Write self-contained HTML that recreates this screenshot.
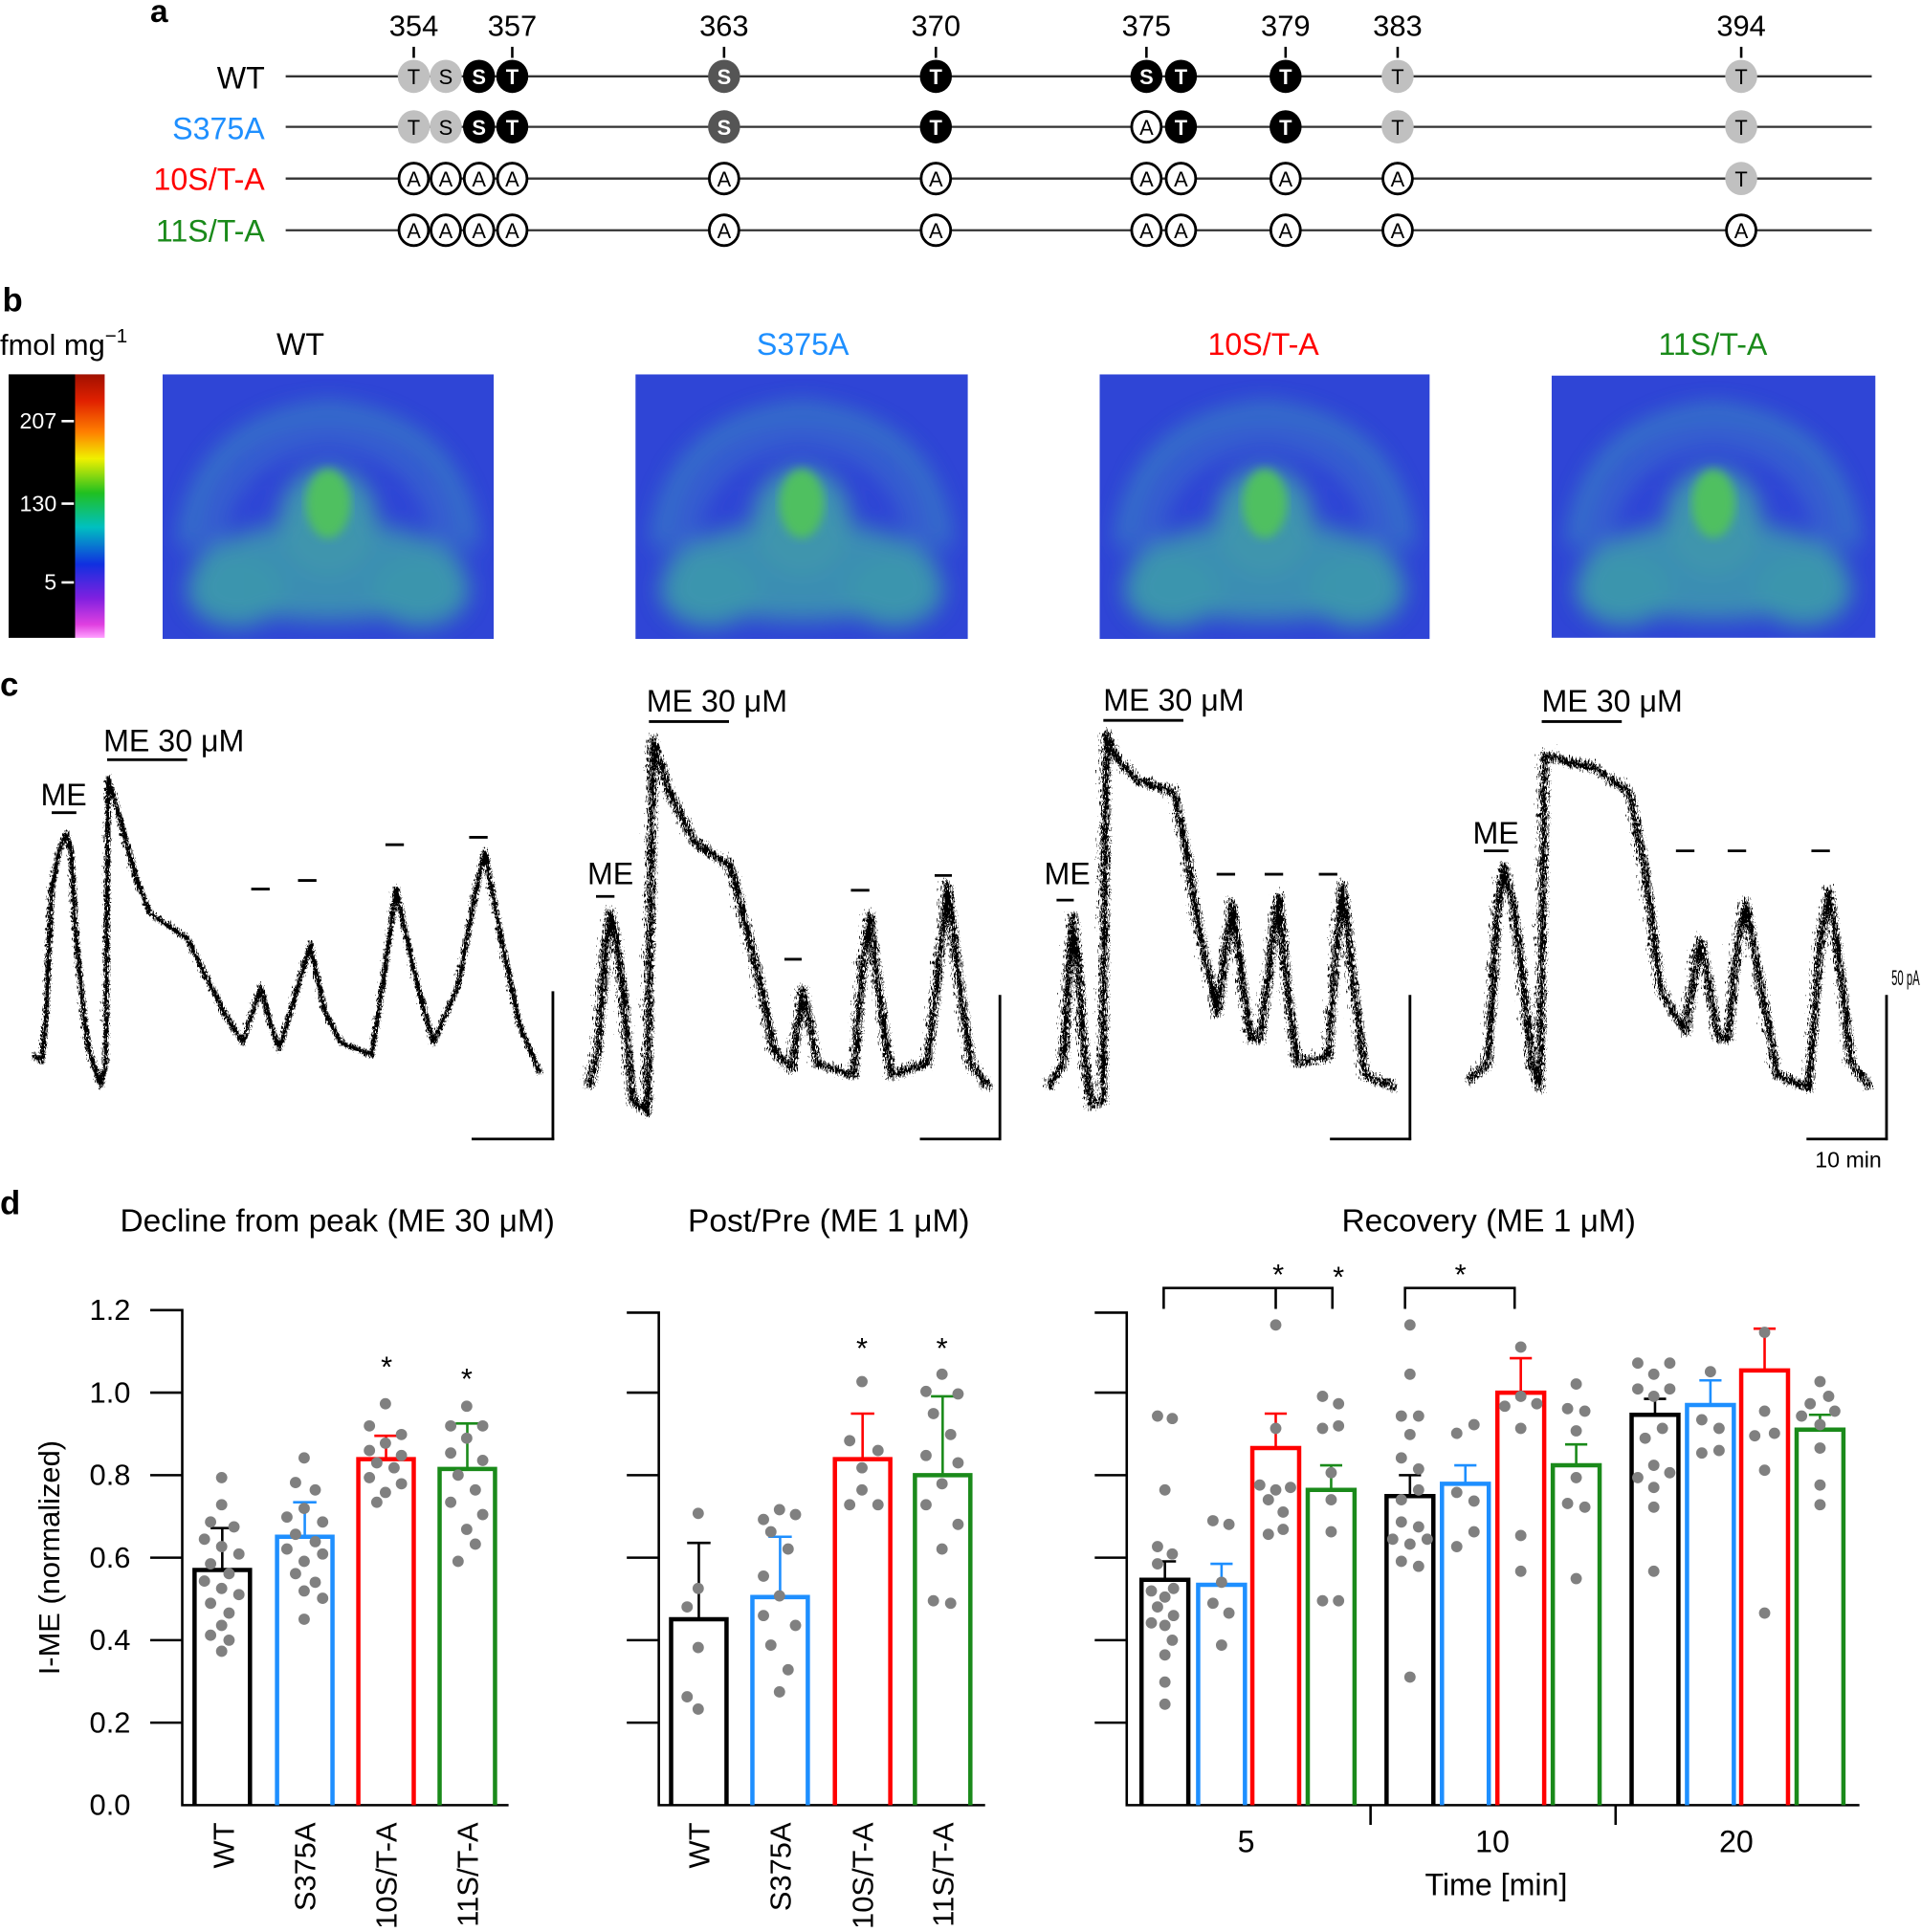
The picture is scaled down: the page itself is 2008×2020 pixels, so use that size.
<!DOCTYPE html>
<html><head><meta charset="utf-8"><style>
html,body{margin:0;padding:0;background:#fff;}
svg{display:block;}
text{font-family:"Liberation Sans",sans-serif;}
</style></head><body>
<svg width="2008" height="2020" viewBox="0 0 1560 1569" preserveAspectRatio="none" xmlns="http://www.w3.org/2000/svg">
<defs>
<linearGradient id="cb" x1="0" y1="0" x2="0" y2="1">
<stop offset="0" stop-color="#a01000"/><stop offset="0.1" stop-color="#e02000"/><stop offset="0.22" stop-color="#ff8000"/><stop offset="0.32" stop-color="#f0f000"/><stop offset="0.45" stop-color="#20c020"/><stop offset="0.58" stop-color="#00c0c0"/><stop offset="0.72" stop-color="#1030e0"/><stop offset="0.85" stop-color="#8020e0"/><stop offset="0.95" stop-color="#e040e0"/><stop offset="1" stop-color="#ffa0ff"/>
</linearGradient>
<filter id="bl" x="-20%" y="-20%" width="140%" height="140%"><feGaussianBlur stdDeviation="9"/></filter>
<filter id="bl2"><feGaussianBlur stdDeviation="4"/></filter>
<filter id="jag1" filterUnits="userSpaceOnUse" x="0" y="540" width="1560" height="420">
<feTurbulence type="turbulence" baseFrequency="0.7 0.3" numOctaves="2" seed="3" result="n"/>
<feDisplacementMap in="SourceGraphic" in2="n" scale="7" xChannelSelector="R" yChannelSelector="G"/>
</filter>
<filter id="jag2" filterUnits="userSpaceOnUse" x="0" y="540" width="1560" height="420">
<feTurbulence type="turbulence" baseFrequency="0.9 0.2" numOctaves="2" seed="7" result="n"/>
<feDisplacementMap in="SourceGraphic" in2="n" scale="13" xChannelSelector="R" yChannelSelector="G"/>
</filter>
<symbol id="brain" viewBox="0 0 270 215" preserveAspectRatio="none">
<rect width="270" height="215" fill="#2f45d6"/>
<g filter="url(#bl)" opacity="0.75">
<path d="M20,140 Q30,40 135,30 Q240,40 250,140" fill="none" stroke="#3a8fc0" stroke-width="14"/>
<path d="M40,140 Q50,60 135,50 Q220,60 230,140" fill="none" stroke="#3f80c8" stroke-width="10"/>
<ellipse cx="135" cy="160" rx="110" ry="40" fill="#3fa6a8"/>
<ellipse cx="60" cy="175" rx="40" ry="30" fill="#40b0a0"/>
<ellipse cx="210" cy="175" rx="40" ry="30" fill="#40b0a0"/>
<ellipse cx="135" cy="120" rx="40" ry="45" fill="#45b0a0"/>
</g>
<g filter="url(#bl2)"><ellipse cx="135" cy="105" rx="18" ry="28" fill="#50c060"/></g>
</symbol>
</defs>

<!-- panel a -->
<text x="122" y="18" font-size="26" font-weight="bold">a</text>
<g font-size="24" text-anchor="middle">
<text x="336" y="29">354</text><text x="416" y="29">357</text><text x="588" y="29">363</text><text x="760" y="29">370</text><text x="931" y="29">375</text><text x="1044" y="29">379</text><text x="1135" y="29">383</text><text x="1414" y="29">394</text>
</g>
<g stroke="#000" stroke-width="2">
<line x1="336" y1="38" x2="336" y2="47"/><line x1="416" y1="38" x2="416" y2="47"/><line x1="588" y1="38" x2="588" y2="47"/><line x1="760" y1="38" x2="760" y2="47"/><line x1="931" y1="38" x2="931" y2="47"/><line x1="1044" y1="38" x2="1044" y2="47"/><line x1="1135" y1="38" x2="1135" y2="47"/><line x1="1414" y1="38" x2="1414" y2="47"/>
</g>
<g font-size="25" text-anchor="end">
<text x="215" y="72">WT</text><text x="215" y="113" fill="#1e8fff">S375A</text><text x="215" y="154" fill="#ff0000">10S/T-A</text><text x="215" y="196" fill="#1a8a1a">11S/T-A</text>
</g>
<g stroke="#333" stroke-width="1.8">
<line x1="232" y1="62" x2="1520" y2="62"/><line x1="232" y1="103" x2="1520" y2="103"/><line x1="232" y1="145" x2="1520" y2="145"/><line x1="232" y1="187" x2="1520" y2="187"/>
</g>
<g font-size="17" text-anchor="middle">
<g transform="translate(0,62)">
<ellipse cx="336" rx="13" ry="13.5" fill="#c0c0c0"/><text x="336" y="6.5">T</text>
<ellipse cx="362" rx="13" ry="13.5" fill="#c0c0c0"/><text x="362" y="6.5">S</text>
<ellipse cx="389" rx="13" ry="13.5" fill="#000"/><text x="389" y="6.5" fill="#fff" font-weight="bold">S</text>
<ellipse cx="416" rx="13" ry="13.5" fill="#000"/><text x="416" y="6.5" fill="#fff" font-weight="bold">T</text>
<ellipse cx="588" rx="13" ry="13.5" fill="#555"/><text x="588" y="6.5" fill="#fff" font-weight="bold">S</text>
<ellipse cx="760" rx="13" ry="13.5" fill="#000"/><text x="760" y="6.5" fill="#fff" font-weight="bold">T</text>
<ellipse cx="931" rx="13" ry="13.5" fill="#000"/><text x="931" y="6.5" fill="#fff" font-weight="bold">S</text>
<ellipse cx="959" rx="13" ry="13.5" fill="#000"/><text x="959" y="6.5" fill="#fff" font-weight="bold">T</text>
<ellipse cx="1044" rx="13" ry="13.5" fill="#000"/><text x="1044" y="6.5" fill="#fff" font-weight="bold">T</text>
<ellipse cx="1135" rx="13" ry="13.5" fill="#c0c0c0"/><text x="1135" y="6.5">T</text>
<ellipse cx="1414" rx="13" ry="13.5" fill="#c0c0c0"/><text x="1414" y="6.5">T</text>
</g>
<g transform="translate(0,103)">
<ellipse cx="336" rx="13" ry="13.5" fill="#c0c0c0"/><text x="336" y="6.5">T</text>
<ellipse cx="362" rx="13" ry="13.5" fill="#c0c0c0"/><text x="362" y="6.5">S</text>
<ellipse cx="389" rx="13" ry="13.5" fill="#000"/><text x="389" y="6.5" fill="#fff" font-weight="bold">S</text>
<ellipse cx="416" rx="13" ry="13.5" fill="#000"/><text x="416" y="6.5" fill="#fff" font-weight="bold">T</text>
<ellipse cx="588" rx="13" ry="13.5" fill="#555"/><text x="588" y="6.5" fill="#fff" font-weight="bold">S</text>
<ellipse cx="760" rx="13" ry="13.5" fill="#000"/><text x="760" y="6.5" fill="#fff" font-weight="bold">T</text>
<ellipse cx="931" rx="12" ry="12.5" fill="#fff" stroke="#000" stroke-width="2.2"/><text x="931" y="6.5">A</text>
<ellipse cx="959" rx="13" ry="13.5" fill="#000"/><text x="959" y="6.5" fill="#fff" font-weight="bold">T</text>
<ellipse cx="1044" rx="13" ry="13.5" fill="#000"/><text x="1044" y="6.5" fill="#fff" font-weight="bold">T</text>
<ellipse cx="1135" rx="13" ry="13.5" fill="#c0c0c0"/><text x="1135" y="6.5">T</text>
<ellipse cx="1414" rx="13" ry="13.5" fill="#c0c0c0"/><text x="1414" y="6.5">T</text>
</g>
<g transform="translate(0,145)">
<g fill="#fff" stroke="#000" stroke-width="2.2">
<ellipse cx="336" rx="12" ry="12.5"/><ellipse cx="362" rx="12" ry="12.5"/><ellipse cx="389" rx="12" ry="12.5"/><ellipse cx="416" rx="12" ry="12.5"/><ellipse cx="588" rx="12" ry="12.5"/><ellipse cx="760" rx="12" ry="12.5"/><ellipse cx="931" rx="12" ry="12.5"/><ellipse cx="959" rx="12" ry="12.5"/><ellipse cx="1044" rx="12" ry="12.5"/><ellipse cx="1135" rx="12" ry="12.5"/>
</g>
<ellipse cx="1414" rx="13" ry="13.5" fill="#c0c0c0"/><text x="1414" y="6.5">T</text>
<text x="336" y="6.5">A</text><text x="362" y="6.5">A</text><text x="389" y="6.5">A</text><text x="416" y="6.5">A</text><text x="588" y="6.5">A</text><text x="760" y="6.5">A</text><text x="931" y="6.5">A</text><text x="959" y="6.5">A</text><text x="1044" y="6.5">A</text><text x="1135" y="6.5">A</text>
</g>
<g transform="translate(0,187)">
<g fill="#fff" stroke="#000" stroke-width="2.2">
<ellipse cx="336" rx="12" ry="12.5"/><ellipse cx="362" rx="12" ry="12.5"/><ellipse cx="389" rx="12" ry="12.5"/><ellipse cx="416" rx="12" ry="12.5"/><ellipse cx="588" rx="12" ry="12.5"/><ellipse cx="760" rx="12" ry="12.5"/><ellipse cx="931" rx="12" ry="12.5"/><ellipse cx="959" rx="12" ry="12.5"/><ellipse cx="1044" rx="12" ry="12.5"/><ellipse cx="1135" rx="12" ry="12.5"/><ellipse cx="1414" rx="12" ry="12.5"/>
</g>
<text x="336" y="6.5">A</text><text x="362" y="6.5">A</text><text x="389" y="6.5">A</text><text x="416" y="6.5">A</text><text x="588" y="6.5">A</text><text x="760" y="6.5">A</text><text x="931" y="6.5">A</text><text x="959" y="6.5">A</text><text x="1044" y="6.5">A</text><text x="1135" y="6.5">A</text><text x="1414" y="6.5">A</text>
</g>
</g>

<!-- panel b -->
<text x="2" y="253" font-size="27" font-weight="bold">b</text>
<text x="0" y="288" font-size="24">fmol mg<tspan dy="-10" font-size="16">−1</tspan></text>
<rect x="7" y="304" width="54" height="214" fill="#000"/>
<rect x="61" y="304" width="24" height="214" fill="url(#cb)"/>
<g stroke="#fff" stroke-width="2"><line x1="50" y1="342" x2="60" y2="342"/><line x1="50" y1="409" x2="60" y2="409"/><line x1="50" y1="473" x2="60" y2="473"/></g>
<g font-size="18" fill="#fff" text-anchor="end"><text x="46" y="348">207</text><text x="46" y="415">130</text><text x="46" y="479">5</text></g>
<g font-size="25" text-anchor="middle">
<text x="244" y="288">WT</text><text x="652" y="288" fill="#1e8fff">S375A</text><text x="1026" y="288" fill="#ff0000">10S/T-A</text><text x="1391" y="288" fill="#1a8a1a">11S/T-A</text>
</g>
<use href="#brain" x="132" y="304" width="269" height="215"/>
<use href="#brain" x="516" y="304" width="270" height="215"/>
<use href="#brain" x="893" y="304" width="268" height="215"/>
<use href="#brain" x="1260" y="305" width="263" height="213"/>

<!-- panel c -->
<text x="0" y="565" font-size="27" font-weight="bold">c</text>
<g fill="none" stroke="#000" stroke-linejoin="round">
<polyline filter="url(#jag1)" stroke-width="4" points="25,855 32,860 36,820 40,720 46,690 52,675 56,690 60,760 66,820 70,850 80,880 84,860 86,630 92,650 100,680 110,715 120,740 135,750 150,760 165,790 180,820 195,845 210,800 218,830 225,850 240,800 250,765 262,820 275,845 300,855 310,790 320,720 335,790 350,845 370,800 385,720 392,690 405,760 420,830 437,870"/>
<polyline filter="url(#jag2)" stroke-width="5.5" points="475,880 482,850 488,770 492,738 497,760 502,800 510,890 522,900 527,598 540,640 560,680 575,690 590,700 605,760 615,800 625,850 640,865 648,800 655,830 660,860 690,870 697,780 703,740 710,800 720,870 750,860 760,770 766,715 775,790 785,860 800,880"/>
<polyline filter="url(#jag2)" stroke-width="5.5" points="848,880 860,860 865,780 868,740 872,780 876,840 882,895 892,890 895,593 905,615 920,630 950,640 962,700 970,750 985,820 992,770 997,730 1005,790 1012,840 1020,840 1030,760 1035,725 1042,800 1050,860 1075,855 1082,760 1087,715 1095,790 1105,870 1130,880"/>
<polyline filter="url(#jag2)" stroke-width="5.5" points="1188,875 1205,860 1212,740 1218,700 1225,730 1232,780 1240,860 1247,880 1251,610 1270,615 1290,620 1320,640 1332,700 1345,800 1365,835 1372,790 1377,760 1385,800 1392,840 1400,840 1408,760 1414,730 1425,790 1440,870 1465,880 1475,760 1482,720 1490,780 1500,860 1515,880"/>
</g>
<g stroke="#000" stroke-width="2.2">
<line x1="42" y1="660" x2="62" y2="660"/><line x1="87" y1="617" x2="152" y2="617"/>
<line x1="204" y1="722" x2="219" y2="722"/><line x1="242" y1="715" x2="257" y2="715"/><line x1="313" y1="686" x2="328" y2="686"/><line x1="381" y1="680" x2="396" y2="680"/>
<line x1="449" y1="805" x2="449" y2="926"/><line x1="383" y1="925" x2="450" y2="925"/>
<line x1="484" y1="728" x2="499" y2="728"/><line x1="527" y1="586" x2="592" y2="586"/>
<line x1="637" y1="779" x2="651" y2="779"/><line x1="691" y1="723" x2="706" y2="723"/><line x1="759" y1="711" x2="773" y2="711"/>
<line x1="812" y1="808" x2="812" y2="926"/><line x1="747" y1="925" x2="813" y2="925"/>
<line x1="858" y1="731" x2="872" y2="731"/><line x1="896" y1="585" x2="961" y2="585"/>
<line x1="988" y1="710" x2="1003" y2="710"/><line x1="1027" y1="710" x2="1042" y2="710"/><line x1="1071" y1="710" x2="1086" y2="710"/>
<line x1="1145" y1="808" x2="1145" y2="926"/><line x1="1080" y1="925" x2="1146" y2="925"/>
<line x1="1205" y1="691" x2="1225" y2="691"/><line x1="1252" y1="586" x2="1317" y2="586"/>
<line x1="1361" y1="691" x2="1376" y2="691"/><line x1="1403" y1="691" x2="1418" y2="691"/><line x1="1471" y1="691" x2="1486" y2="691"/>
<line x1="1532" y1="808" x2="1532" y2="926"/><line x1="1467" y1="925" x2="1533" y2="925"/>
</g>
<g font-size="25">
<text x="33" y="654">ME</text><text x="84" y="610">ME 30 μM</text>
<text x="477" y="718">ME</text><text x="525" y="578">ME 30 μM</text>
<text x="848" y="718">ME</text><text x="896" y="577">ME 30 μM</text>
<text x="1196" y="685">ME</text><text x="1252" y="578">ME 30 μM</text>
</g>
<text x="1536" y="800" font-size="17" textLength="23" lengthAdjust="spacingAndGlyphs">50 pA</text>
<text x="1474" y="948" font-size="18">10 min</text>

<!-- panel d -->
<text x="0" y="986" font-size="27" font-weight="bold">d</text>
<g font-size="26" text-anchor="middle">
<text x="274" y="1000">Decline from peak (ME 30 μM)</text>
<text x="673" y="1000">Post/Pre (ME 1 μM)</text>
<text x="1209" y="1000">Recovery (ME 1 μM)</text>
</g>
<g stroke="#000" stroke-width="2" fill="none">
<polyline points="122,1064 148,1064 148,1466 413,1466"/>
<polyline points="509,1066 535,1066 535,1466 800,1466"/>
<polyline points="889,1066 915,1066 915,1466 1510,1466"/>
<line x1="1113" y1="1466" x2="1113" y2="1482"/><line x1="1312" y1="1466" x2="1312" y2="1482"/>
<polyline points="945,1063 945,1046 1082,1046 1082,1063"/><line x1="1036" y1="1046" x2="1036" y2="1063"/>
<polyline points="1141,1063 1141,1046 1230,1046 1230,1063"/>
<path d="M122 1399H148M122 1332H148M122 1265H148M122 1198H148M122 1131H148"/>
<path d="M509 1399H535M509 1332H535M509 1265H535M509 1198H535M509 1131H535"/>
<path d="M889 1399H915M889 1332H915M889 1265H915M889 1198H915M889 1131H915"/>
</g>
<g font-size="24" text-anchor="end">
<text x="106" y="1474">0.0</text><text x="106" y="1407">0.2</text><text x="106" y="1340">0.4</text><text x="106" y="1273">0.6</text><text x="106" y="1206">0.8</text><text x="106" y="1139">1.0</text><text x="106" y="1072">1.2</text>
</g>
<text transform="translate(48,1265) rotate(-90)" font-size="24" text-anchor="middle">I-ME (normalized)</text>

<g fill="none" stroke-width="3.5">
<g stroke="#000"><path d="M158 1466V1275H203V1466"/><path d="M545 1466V1315H590V1466"/><path d="M927 1466V1283H965V1466"/><path d="M1126 1466V1215H1164V1466"/><path d="M1325 1466V1149H1363V1466"/></g>
<g stroke="#1e8fff"><path d="M225 1466V1248H270V1466"/><path d="M611 1466V1297H656V1466"/><path d="M973 1466V1287H1011V1466"/><path d="M1171 1466V1205H1209V1466"/><path d="M1370 1466V1141H1408V1466"/></g>
<g stroke="#ff0000"><path d="M291 1466V1185H336V1466"/><path d="M678 1466V1185H723V1466"/><path d="M1017 1466V1176H1055V1466"/><path d="M1216 1466V1131H1254V1466"/><path d="M1414 1466V1113H1452V1466"/></g>
<g stroke="#1a8a1a"><path d="M357 1466V1193H402V1466"/><path d="M743 1466V1198H788V1466"/><path d="M1062 1466V1210H1100V1466"/><path d="M1261 1466V1190H1299V1466"/><path d="M1459 1466V1161H1497V1466"/></g>
</g>
<g fill="none" stroke-width="2">
<path stroke="#000" d="M180.5 1275V1241M171 1241H190M567.5 1315V1253M558 1253H577M946 1283V1268M937 1268H955M1145 1215V1198M1136 1198H1154M1344 1149V1136M1335 1136H1353"/>
<path stroke="#1e8fff" d="M247.5 1248V1220M238 1220H257M633.5 1297V1248M624 1248H643M992 1287V1270M983 1270H1001M1190 1205V1190M1181 1190H1199M1389 1141V1121M1380 1121H1398"/>
<path stroke="#ff0000" d="M313.5 1185V1166M304 1166H323M700.5 1185V1148M691 1148H710M1036 1176V1148M1027 1148H1045M1235 1131V1103M1226 1103H1244M1433 1113V1079M1424 1079H1442"/>
<path stroke="#1a8a1a" d="M379.5 1193V1156M370 1156H389M765.5 1198V1134M756 1134H775M1081 1210V1190M1072 1190H1090M1280 1190V1173M1271 1173H1289M1478 1161V1149M1469 1149H1487"/>
</g>
<g fill="#808080">
<circle cx="180" cy="1200" r="4.6"/><circle cx="180" cy="1222" r="4.6"/><circle cx="171" cy="1236" r="4.6"/><circle cx="190" cy="1240" r="4.6"/><circle cx="166" cy="1250" r="4.6"/><circle cx="180" cy="1256" r="4.6"/><circle cx="194" cy="1262" r="4.6"/><circle cx="171" cy="1270" r="4.6"/><circle cx="186" cy="1278" r="4.6"/><circle cx="166" cy="1284" r="4.6"/><circle cx="180" cy="1290" r="4.6"/><circle cx="194" cy="1295" r="4.6"/><circle cx="171" cy="1302" r="4.6"/><circle cx="186" cy="1310" r="4.6"/><circle cx="180" cy="1320" r="4.6"/><circle cx="171" cy="1328" r="4.6"/><circle cx="186" cy="1332" r="4.6"/><circle cx="180" cy="1341" r="4.6"/>
<circle cx="247" cy="1184" r="4.6"/><circle cx="240" cy="1204" r="4.6"/><circle cx="256" cy="1210" r="4.6"/><circle cx="247" cy="1225" r="4.6"/><circle cx="233" cy="1232" r="4.6"/><circle cx="262" cy="1236" r="4.6"/><circle cx="240" cy="1246" r="4.6"/><circle cx="256" cy="1252" r="4.6"/><circle cx="233" cy="1258" r="4.6"/><circle cx="262" cy="1262" r="4.6"/><circle cx="247" cy="1268" r="4.6"/><circle cx="240" cy="1278" r="4.6"/><circle cx="256" cy="1285" r="4.6"/><circle cx="247" cy="1292" r="4.6"/><circle cx="262" cy="1298" r="4.6"/><circle cx="247" cy="1315" r="4.6"/>
<circle cx="313" cy="1140" r="4.6"/><circle cx="300" cy="1158" r="4.6"/><circle cx="326" cy="1165" r="4.6"/><circle cx="313" cy="1172" r="4.6"/><circle cx="300" cy="1178" r="4.6"/><circle cx="326" cy="1182" r="4.6"/><circle cx="306" cy="1188" r="4.6"/><circle cx="320" cy="1192" r="4.6"/><circle cx="300" cy="1200" r="4.6"/><circle cx="326" cy="1205" r="4.6"/><circle cx="313" cy="1212" r="4.6"/><circle cx="306" cy="1220" r="4.6"/>
<circle cx="379" cy="1142" r="4.6"/><circle cx="366" cy="1158" r="4.6"/><circle cx="392" cy="1158" r="4.6"/><circle cx="379" cy="1168" r="4.6"/><circle cx="366" cy="1180" r="4.6"/><circle cx="392" cy="1186" r="4.6"/><circle cx="372" cy="1198" r="4.6"/><circle cx="386" cy="1210" r="4.6"/><circle cx="366" cy="1220" r="4.6"/><circle cx="392" cy="1230" r="4.6"/><circle cx="379" cy="1242" r="4.6"/><circle cx="386" cy="1254" r="4.6"/><circle cx="372" cy="1268" r="4.6"/>
<circle cx="567" cy="1229" r="4.6"/><circle cx="567" cy="1290" r="4.6"/><circle cx="558" cy="1305" r="4.6"/><circle cx="567" cy="1338" r="4.6"/><circle cx="558" cy="1378" r="4.6"/><circle cx="567" cy="1388" r="4.6"/>
<circle cx="633" cy="1226" r="4.6"/><circle cx="620" cy="1234" r="4.6"/><circle cx="646" cy="1230" r="4.6"/><circle cx="626" cy="1244" r="4.6"/><circle cx="640" cy="1258" r="4.6"/><circle cx="620" cy="1280" r="4.6"/><circle cx="633" cy="1296" r="4.6"/><circle cx="620" cy="1312" r="4.6"/><circle cx="646" cy="1320" r="4.6"/><circle cx="626" cy="1336" r="4.6"/><circle cx="640" cy="1356" r="4.6"/><circle cx="633" cy="1374" r="4.6"/>
<circle cx="700" cy="1122" r="4.6"/><circle cx="690" cy="1170" r="4.6"/><circle cx="713" cy="1178" r="4.6"/><circle cx="700" cy="1192" r="4.6"/><circle cx="690" cy="1222" r="4.6"/><circle cx="713" cy="1222" r="4.6"/><circle cx="700" cy="1210" r="4.6"/>
<circle cx="765" cy="1116" r="4.6"/><circle cx="752" cy="1130" r="4.6"/><circle cx="778" cy="1132" r="4.6"/><circle cx="758" cy="1148" r="4.6"/><circle cx="772" cy="1165" r="4.6"/><circle cx="752" cy="1182" r="4.6"/><circle cx="778" cy="1188" r="4.6"/><circle cx="765" cy="1205" r="4.6"/><circle cx="752" cy="1222" r="4.6"/><circle cx="778" cy="1238" r="4.6"/><circle cx="765" cy="1258" r="4.6"/><circle cx="758" cy="1300" r="4.6"/><circle cx="772" cy="1302" r="4.6"/>
<circle cx="940" cy="1150" r="4.6"/><circle cx="952" cy="1152" r="4.6"/><circle cx="946" cy="1210" r="4.6"/><circle cx="940" cy="1256" r="4.6"/><circle cx="952" cy="1262" r="4.6"/><circle cx="940" cy="1270" r="4.6"/><circle cx="953" cy="1290" r="4.6"/><circle cx="935" cy="1292" r="4.6"/><circle cx="946" cy="1297" r="4.6"/><circle cx="940" cy="1305" r="4.6"/><circle cx="953" cy="1312" r="4.6"/><circle cx="935" cy="1318" r="4.6"/><circle cx="946" cy="1320" r="4.6"/><circle cx="952" cy="1332" r="4.6"/><circle cx="946" cy="1344" r="4.6"/><circle cx="946" cy="1366" r="4.6"/><circle cx="946" cy="1384" r="4.6"/>
<circle cx="985" cy="1235" r="4.6"/><circle cx="998" cy="1238" r="4.6"/><circle cx="992" cy="1285" r="4.6"/><circle cx="985" cy="1302" r="4.6"/><circle cx="998" cy="1310" r="4.6"/><circle cx="992" cy="1336" r="4.6"/>
<circle cx="1036" cy="1076" r="4.6"/><circle cx="1036" cy="1160" r="4.6"/><circle cx="1023" cy="1206" r="4.6"/><circle cx="1036" cy="1210" r="4.6"/><circle cx="1048" cy="1208" r="4.6"/><circle cx="1030" cy="1218" r="4.6"/><circle cx="1042" cy="1228" r="4.6"/><circle cx="1030" cy="1246" r="4.6"/><circle cx="1042" cy="1242" r="4.6"/>
<circle cx="1074" cy="1134" r="4.6"/><circle cx="1087" cy="1140" r="4.6"/><circle cx="1074" cy="1160" r="4.6"/><circle cx="1087" cy="1158" r="4.6"/><circle cx="1081" cy="1196" r="4.6"/><circle cx="1081" cy="1218" r="4.6"/><circle cx="1081" cy="1244" r="4.6"/><circle cx="1074" cy="1300" r="4.6"/><circle cx="1087" cy="1300" r="4.6"/>
<circle cx="1145" cy="1076" r="4.6"/><circle cx="1145" cy="1116" r="4.6"/><circle cx="1138" cy="1150" r="4.6"/><circle cx="1152" cy="1150" r="4.6"/><circle cx="1145" cy="1165" r="4.6"/><circle cx="1138" cy="1184" r="4.6"/><circle cx="1152" cy="1193" r="4.6"/><circle cx="1152" cy="1210" r="4.6"/><circle cx="1138" cy="1218" r="4.6"/><circle cx="1138" cy="1236" r="4.6"/><circle cx="1152" cy="1240" r="4.6"/><circle cx="1131" cy="1250" r="4.6"/><circle cx="1145" cy="1254" r="4.6"/><circle cx="1159" cy="1250" r="4.6"/><circle cx="1138" cy="1268" r="4.6"/><circle cx="1152" cy="1272" r="4.6"/><circle cx="1145" cy="1362" r="4.6"/>
<circle cx="1183" cy="1164" r="4.6"/><circle cx="1197" cy="1157" r="4.6"/><circle cx="1183" cy="1212" r="4.6"/><circle cx="1197" cy="1219" r="4.6"/><circle cx="1197" cy="1244" r="4.6"/><circle cx="1183" cy="1256" r="4.6"/>
<circle cx="1235" cy="1094" r="4.6"/><circle cx="1235" cy="1134" r="4.6"/><circle cx="1222" cy="1142" r="4.6"/><circle cx="1248" cy="1140" r="4.6"/><circle cx="1235" cy="1160" r="4.6"/><circle cx="1235" cy="1247" r="4.6"/><circle cx="1235" cy="1276" r="4.6"/>
<circle cx="1280" cy="1124" r="4.6"/><circle cx="1273" cy="1144" r="4.6"/><circle cx="1287" cy="1146" r="4.6"/><circle cx="1280" cy="1162" r="4.6"/><circle cx="1280" cy="1200" r="4.6"/><circle cx="1273" cy="1221" r="4.6"/><circle cx="1287" cy="1224" r="4.6"/><circle cx="1280" cy="1282" r="4.6"/>
<circle cx="1330" cy="1107" r="4.6"/><circle cx="1356" cy="1107" r="4.6"/><circle cx="1343" cy="1116" r="4.6"/><circle cx="1330" cy="1128" r="4.6"/><circle cx="1356" cy="1128" r="4.6"/><circle cx="1343" cy="1134" r="4.6"/><circle cx="1350" cy="1160" r="4.6"/><circle cx="1336" cy="1168" r="4.6"/><circle cx="1343" cy="1190" r="4.6"/><circle cx="1330" cy="1200" r="4.6"/><circle cx="1356" cy="1196" r="4.6"/><circle cx="1343" cy="1208" r="4.6"/><circle cx="1343" cy="1224" r="4.6"/><circle cx="1343" cy="1276" r="4.6"/>
<circle cx="1389" cy="1114" r="4.6"/><circle cx="1382" cy="1153" r="4.6"/><circle cx="1396" cy="1160" r="4.6"/><circle cx="1382" cy="1180" r="4.6"/><circle cx="1396" cy="1178" r="4.6"/>
<circle cx="1433" cy="1082" r="4.6"/><circle cx="1433" cy="1146" r="4.6"/><circle cx="1425" cy="1166" r="4.6"/><circle cx="1441" cy="1164" r="4.6"/><circle cx="1433" cy="1194" r="4.6"/><circle cx="1433" cy="1310" r="4.6"/>
<circle cx="1478" cy="1122" r="4.6"/><circle cx="1485" cy="1134" r="4.6"/><circle cx="1470" cy="1140" r="4.6"/><circle cx="1490" cy="1146" r="4.6"/><circle cx="1463" cy="1150" r="4.6"/><circle cx="1478" cy="1157" r="4.6"/><circle cx="1478" cy="1176" r="4.6"/><circle cx="1478" cy="1206" r="4.6"/><circle cx="1478" cy="1222" r="4.6"/>
</g>

<g font-size="24" text-anchor="end">
<text transform="translate(190,1480) rotate(-90)">WT</text>
<text transform="translate(256,1480) rotate(-90)">S375A</text>
<text transform="translate(322,1480) rotate(-90)">10S/T-A</text>
<text transform="translate(388,1480) rotate(-90)">11S/T-A</text>
<text transform="translate(576,1480) rotate(-90)">WT</text>
<text transform="translate(642,1480) rotate(-90)">S375A</text>
<text transform="translate(709,1480) rotate(-90)">10S/T-A</text>
<text transform="translate(774,1480) rotate(-90)">11S/T-A</text>
</g>
<g font-size="24" text-anchor="middle">
<text x="314" y="1118">*</text><text x="379" y="1128">*</text>
<text x="700" y="1103">*</text><text x="765" y="1103">*</text>
<text x="1038" y="1043">*</text><text x="1087" y="1045">*</text><text x="1186" y="1043">*</text>
</g>
<g font-size="25" text-anchor="middle">
<text x="1012" y="1504">5</text><text x="1212" y="1504">10</text><text x="1410" y="1504">20</text>
<text x="1215" y="1539">Time [min]</text>
</g>
</svg>
</body></html>
